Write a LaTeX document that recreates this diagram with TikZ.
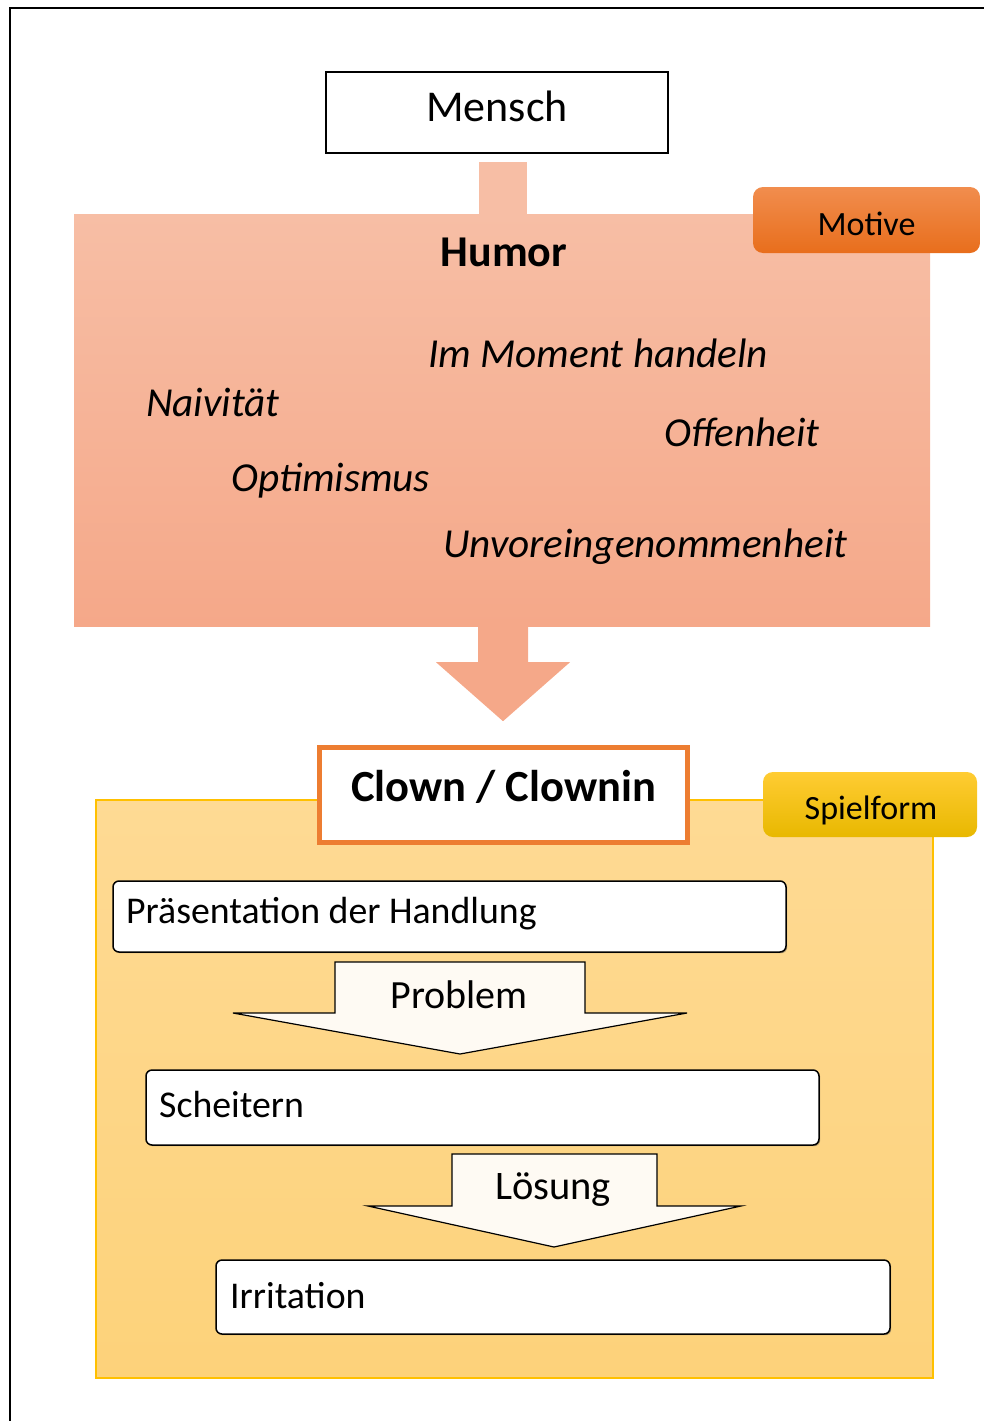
\documentclass[tikz,border=0pt]{standalone}
\usepackage{fontspec}
\setmainfont{Carlito}
\usetikzlibrary{calc,shadows}
\definecolor{salmonA}{RGB}{247,190,165}
\definecolor{salmonB}{RGB}{245,168,137}
\definecolor{motA}{RGB}{241,141,78}
\definecolor{motB}{RGB}{232,110,28}
\definecolor{yelA}{RGB}{254,218,148}
\definecolor{yelB}{RGB}{253,210,122}
\definecolor{yelBorder}{RGB}{255,192,0}
\definecolor{spA}{RGB}{255,204,51}
\definecolor{spB}{RGB}{232,184,0}
\definecolor{clownOr}{RGB}{237,125,49}
\definecolor{arrFill}{RGB}{254,250,243}
\tikzset{
  wbox/.style={draw=black, fill=white, line width=1.5pt, rounded corners=6pt,
    inner sep=0pt, drop shadow={shadow xshift=1.2pt, shadow yshift=-1.2pt, opacity=0.45, fill=black!70}},
  tab/.style={rounded corners=10pt, inner sep=0pt},
  itxt/.style={font=\fontsize{41.2}{48}\selectfont\itshape, anchor=west, inner sep=0pt},
  btxt/.style={font=\fontsize{37.8}{44}\selectfont, anchor=west, inner sep=0pt},
  tabtxt/.style={font=\fontsize{34}{40}\selectfont, inner sep=0pt},
  flowarrow/.style={draw=black, fill=arrFill, line width=1.2pt, line join=miter},
}
\begin{document}
\begin{tikzpicture}[x=1pt,y=-1pt]
\useasboundingbox (0,0) rectangle (984,1421);
% frame
\draw[line width=1.5pt] (10,1421) -- (10,8) -- (984,8);

% Mensch
\node[draw=black, fill=white, line width=1.5pt, minimum width=342pt, minimum height=81pt, inner sep=0pt,
  font=\fontsize{44}{52}\selectfont] (mensch) at (497,112.5) {\raisebox{12pt}{Mensch}};

% Humor box
\node[top color=salmonA, bottom color=salmonB, minimum width=856pt, minimum height=412pt, inner sep=0pt]
  (humor) at (502,420) {};
% connector Mensch -> Humor
\fill[salmonA] ($(mensch.south)+(-18,8)$) rectangle ($(humor.north)+(25,1)$);

\node[font=\fontsize{44}{52}\selectfont\bfseries] (humort) at (504,252) {Humor};
\node[itxt] (t1) at (428,353) {Im Moment handeln};
\node[itxt] (t2) at (146,402) {Naivität};
\node[itxt] (t3) at (664,432) {Offenheit};
\node[itxt] (t4) at (231,481) {Optimismus};
\node[itxt] (t5) at (443,547) {Unvoreingenommenheit};

% Motive tab
\node[tab, top color=motA, bottom color=motB, minimum width=227pt, minimum height=66pt] (motive) at (866.5,220) {};
\node[tabtxt] (motivet) at (866.5,224) {Motive};

% Spielform area
\node[top color=yelA, bottom color=yelB, draw=yelBorder, line width=1.5pt,
  minimum width=837pt, minimum height=578pt, inner sep=0pt] (spiel) at (514.5,1089) {};

% big arrow Humor -> Clown
\coordinate (hs) at (humor.south);
\fill[salmonB] ($(hs)+(-24,-1)$) -- ($(hs)+(-24,36)$) -- ($(hs)+(-66,36)$) -- ($(hs)+(1,95)$) coordinate (tip)
  -- ($(hs)+(68,36)$) -- ($(hs)+(26,36)$) -- ($(hs)+(26,-1)$) -- cycle;

% Clown box
\node[draw=clownOr, fill=white, line width=5pt, minimum width=368pt, minimum height=95pt, inner sep=0pt,
  font=\fontsize{44.5}{52}\selectfont\bfseries] (clown) at (503.5,795) {\raisebox{18pt}{Clown / Clownin}};

% Spielform tab
\node[tab, top color=spA, bottom color=spB, minimum width=214pt, minimum height=65pt] (spieltab) at (870,804.5) {};
\node[tabtxt] (spieltabt) at (871,810.5) {Spielform};

% step boxes
\node[wbox, minimum width=673pt, minimum height=71pt] (praes) at (449.5,916.5) {};
\node[btxt] at (126,914) {Präsentation der Handlung};

\node[wbox, minimum width=673pt, minimum height=75pt] (scheit) at (482.5,1107.5) {};
\node[btxt] at (159,1105) {Scheitern};

\node[wbox, minimum width=674pt, minimum height=74pt] (irr) at (553,1297) {};
\node[btxt] at (230,1296) {Irritation};

% Problem arrow
\draw[flowarrow] (335,962) -- (585,962) -- (585,1013) -- (687,1013) -- (460,1054) coordinate (ptip)
  -- (233,1013) -- (335,1013) -- cycle;
\node[font=\fontsize{40}{48}\selectfont] (problem) at (459,995) {Problem};

% Lösung arrow
\draw[flowarrow] (452,1154) -- (657,1154) -- (657,1206) -- (741,1206) -- (554,1247) coordinate (ltip)
  -- (368,1206) -- (452,1206) -- cycle;
\node[font=\fontsize{40.5}{48}\selectfont] (loesung) at (553,1190) {Lösung};
\end{tikzpicture}
\end{document}
